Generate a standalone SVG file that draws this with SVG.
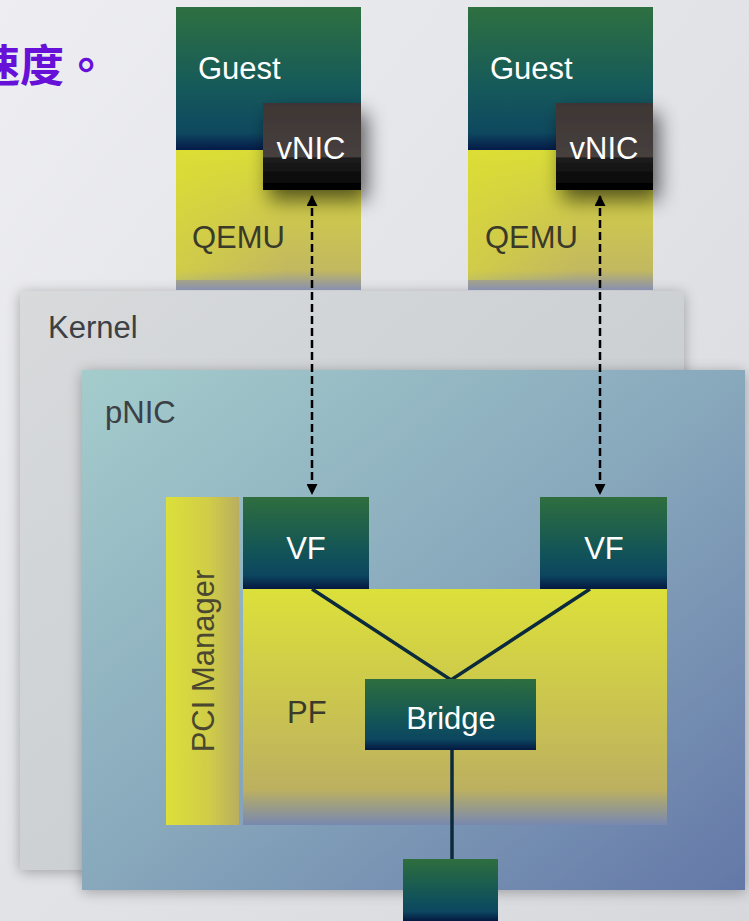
<svg xmlns="http://www.w3.org/2000/svg" width="749" height="921" viewBox="0 0 749 921">
<style>
.lbl{font-family:"Liberation Sans",Arial,sans-serif;font-size:31px}
.w{fill:#ffffff}
.d{fill:#3a3a2a}
.g{fill:#3c4044}
.dash{stroke:#000;stroke-width:2.5;stroke-dasharray:8 4;fill:none}
.wire{stroke:#0b2a3c;stroke-width:3.5;fill:none}
</style>
<defs>
<linearGradient id="bg" x1="0" y1="0" x2="1" y2="1">
<stop offset="0" stop-color="#eeeef2"/><stop offset="1" stop-color="#d6d8dc"/>
</linearGradient>
<linearGradient id="guest" x1="0" y1="0" x2="0" y2="1">
<stop offset="0" stop-color="#2e7040"/><stop offset="0.55" stop-color="#165a5a"/><stop offset="0.88" stop-color="#0e4860"/><stop offset="1" stop-color="#051a48"/>
</linearGradient>
<linearGradient id="qemu" x1="0" y1="0" x2="0" y2="1">
<stop offset="0" stop-color="#d8dc38"/><stop offset="0.5" stop-color="#ccc650"/><stop offset="0.86" stop-color="#c2b860"/><stop offset="1" stop-color="#8890b0"/>
</linearGradient>
<linearGradient id="qemuH" x1="0" y1="0" x2="1" y2="0">
<stop offset="0" stop-color="#e0e030" stop-opacity="0.5"/><stop offset="0.6" stop-color="#e0e030" stop-opacity="0"/>
</linearGradient>
<linearGradient id="vnic" x1="0" y1="0" x2="0" y2="1">
<stop offset="0" stop-color="#3e3634"/><stop offset="0.62" stop-color="#46403e"/><stop offset="0.63" stop-color="#1e1e1e"/><stop offset="1" stop-color="#000"/>
</linearGradient>
<linearGradient id="kernel" x1="0" y1="0" x2="1" y2="1">
<stop offset="0" stop-color="#d8dadc"/><stop offset="1" stop-color="#c2c8cc"/>
</linearGradient>
<linearGradient id="pnic" x1="0" y1="0" x2="1" y2="1">
<stop offset="0" stop-color="#a4cccc"/><stop offset="0.5" stop-color="#88a8bc"/><stop offset="1" stop-color="#6478a8"/>
</linearGradient>
<linearGradient id="pci" x1="0" y1="0" x2="1" y2="0">
<stop offset="0" stop-color="#dce03a"/><stop offset="0.6" stop-color="#d0cc48"/><stop offset="1" stop-color="#b8ae60"/>
</linearGradient>
<linearGradient id="pf" x1="0" y1="0" x2="0" y2="1">
<stop offset="0" stop-color="#dce03a"/><stop offset="0.5" stop-color="#cac450"/><stop offset="0.85" stop-color="#bcb060"/><stop offset="1" stop-color="#7888b0"/>
</linearGradient>
<linearGradient id="box" x1="0" y1="0" x2="0" y2="1">
<stop offset="0" stop-color="#2e6e3e"/><stop offset="0.6" stop-color="#125458"/><stop offset="0.85" stop-color="#0c4660"/><stop offset="1" stop-color="#041840"/>
</linearGradient>
<filter id="sh" x="-30%" y="-30%" width="170%" height="170%">
<feGaussianBlur in="SourceAlpha" stdDeviation="10"/><feOffset dx="6" dy="10"/>
<feComponentTransfer><feFuncA type="linear" slope="0.6"/></feComponentTransfer>
<feMerge><feMergeNode/><feMergeNode in="SourceGraphic"/></feMerge>
</filter>
<filter id="sh2" x="-10%" y="-10%" width="120%" height="120%">
<feGaussianBlur in="SourceAlpha" stdDeviation="7"/><feOffset dx="0" dy="2"/>
<feComponentTransfer><feFuncA type="linear" slope="0.3"/></feComponentTransfer>
<feMerge><feMergeNode/><feMergeNode in="SourceGraphic"/></feMerge>
</filter>
<marker id="ah" viewBox="0 0 10 10" refX="9" refY="5" markerWidth="5" markerHeight="4.4" orient="auto-start-reverse" markerUnits="strokeWidth">
<path d="M0,0 L10,5 L0,10 z" fill="#000"/>
</marker>
</defs>
<rect width="749" height="921" fill="url(#bg)"/>
<text x="-24" y="82" font-family="'Noto Sans CJK TC',sans-serif" font-size="44" font-weight="bold" fill="#6610d8">速度。</text>

<g id="kernel">
<rect x="20" y="291" width="664" height="579" fill="url(#kernel)" filter="url(#sh2)"/>
<text class="lbl g" x="48" y="338">Kernel</text>
</g>
<g id="guest1">
<rect x="176" y="7" width="185" height="143" fill="url(#guest)"/>
<rect x="176" y="150" width="185" height="140" fill="url(#qemu)"/>
<rect x="176" y="150" width="185" height="130" fill="url(#qemuH)"/>
<text class="lbl w" x="198" y="79">Guest</text>
<text class="lbl d" x="192" y="248">QEMU</text>
</g>
<g id="vnic1">
<rect x="263" y="103" width="98" height="87" fill="url(#vnic)" filter="url(#sh)"/>
<text class="lbl w" x="311" y="159" text-anchor="middle">vNIC</text>
</g>
<g id="guest2">
<rect x="468" y="7" width="185" height="143" fill="url(#guest)"/>
<rect x="468" y="150" width="185" height="140" fill="url(#qemu)"/>
<rect x="468" y="150" width="185" height="130" fill="url(#qemuH)"/>
<text class="lbl w" x="490" y="79">Guest</text>
<text class="lbl d" x="485" y="248">QEMU</text>
</g>
<g id="vnic2">
<rect x="556" y="103" width="97" height="87" fill="url(#vnic)" filter="url(#sh)"/>
<text class="lbl w" x="604" y="159" text-anchor="middle">vNIC</text>
</g>
<g id="pnic">
<rect x="82" y="370" width="663" height="520" fill="url(#pnic)" filter="url(#sh2)"/>
<text class="lbl g" x="105" y="423">pNIC</text>
</g>
<g id="pci-manager">
<rect x="166" y="497" width="73" height="328" fill="url(#pci)"/>
<text class="lbl" fill="#4a4830" transform="translate(214,661) rotate(-90)" text-anchor="middle">PCI Manager</text>
</g>
<g id="pf">
<rect x="243" y="589" width="424" height="236" fill="url(#pf)"/>
<text class="lbl d" x="287" y="723">PF</text>
</g>
<g id="vf1">
<rect x="243" y="497" width="126" height="92" fill="url(#box)"/>
<text class="lbl w" x="306" y="559" text-anchor="middle">VF</text>
</g>
<g id="vf2">
<rect x="540" y="497" width="127" height="92" fill="url(#box)"/>
<text class="lbl w" x="604" y="559" text-anchor="middle">VF</text>
</g>
<g id="connectors">
<line class="dash" x1="312" y1="196" x2="312" y2="494" marker-start="url(#ah)" marker-end="url(#ah)"/>
<line class="dash" x1="600" y1="196" x2="600" y2="494" marker-start="url(#ah)" marker-end="url(#ah)"/>
<polyline class="wire" points="312,589 451,680 590,589"/>
<line class="wire" x1="452" y1="750" x2="452" y2="860"/>
</g>
<g id="bridge">
<rect x="365" y="679" width="171" height="71" fill="url(#box)"/>
<text class="lbl w" x="451" y="729" text-anchor="middle">Bridge</text>
</g>
<g id="port">
<rect x="403" y="859" width="95" height="62" fill="url(#box)"/>
</g>
</svg>
